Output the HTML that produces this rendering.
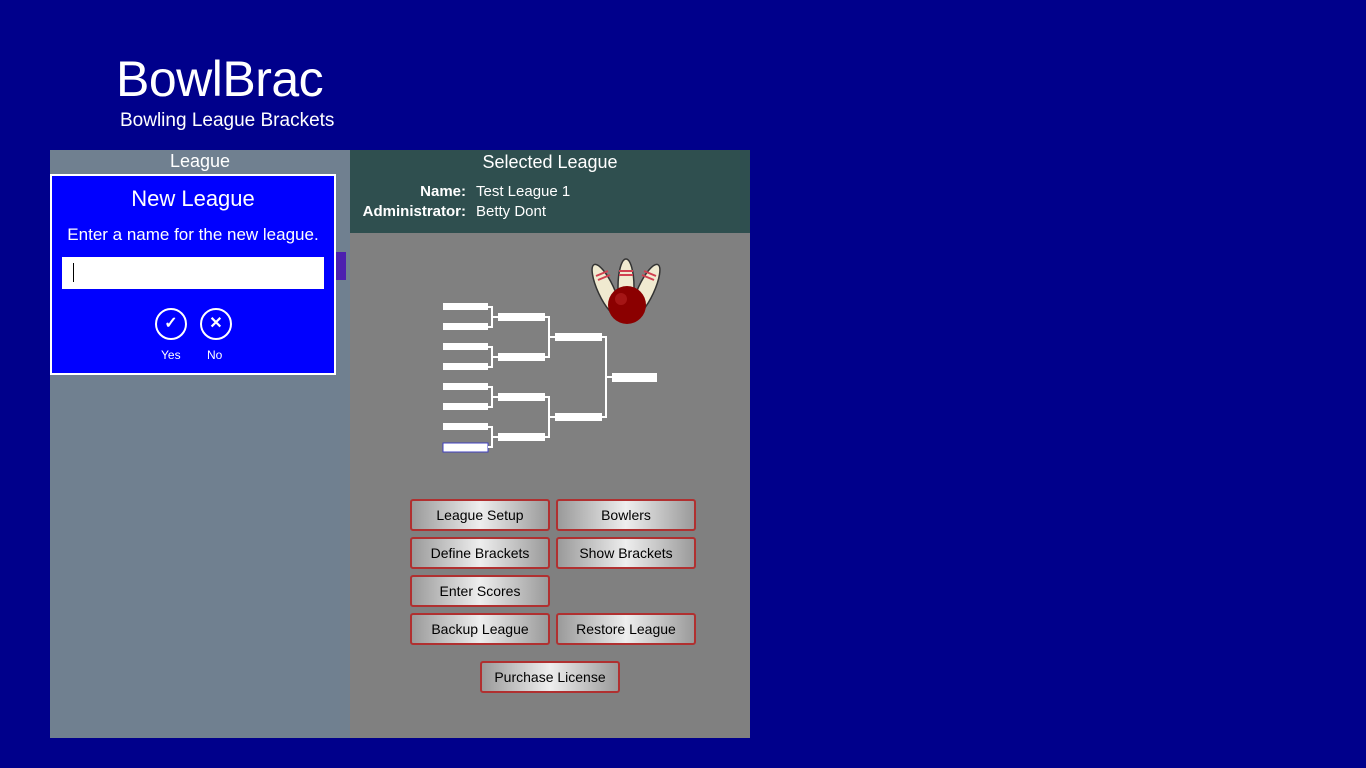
<!DOCTYPE html>
<html><head><style>
body{margin:0;width:1366px;height:768px;background:#00008b;position:relative;overflow:hidden;font-family:"Liberation Sans",sans-serif;color:#fff}
.a{position:absolute}
.btn{position:absolute;width:136px;height:28px;border:2px solid #b03030;border-radius:3px;background:linear-gradient(90deg,#9a9a9a,#eee 50%,#9a9a9a);color:#000;font-size:14px;text-align:center;line-height:28px}
</style></head><body>
<div class="a" style="left:116px;top:50px;font-size:50px;font-weight:300;letter-spacing:-0.5px">BowlBrac</div>
<div class="a" style="left:120px;top:110px;font-size:19px">Bowling League Brackets</div>
<div class="a" style="left:50px;top:150px;width:300px;height:588px;background:#708090"></div>
<div class="a" style="left:50px;top:150px;width:300px;text-align:center;font-size:18px;line-height:22px">League</div>
<div class="a" style="left:336px;top:252px;width:10px;height:28px;background:#4b1fb0"></div>
<div class="a" style="left:350px;top:150px;width:400px;height:588px;background:#808080"></div>
<div class="a" style="left:350px;top:150px;width:400px;height:83px;background:#2f4f4f"></div>
<div class="a" style="left:350px;top:150px;width:400px;text-align:center;font-size:18px;line-height:24px">Selected League</div>
<div class="a" style="left:350px;top:182px;width:116px;text-align:right;font-size:15px;font-weight:bold;line-height:20px">Name:<br>Administrator:</div>
<div class="a" style="left:476px;top:182px;font-size:15px;line-height:20px">Test League 1<br>Betty Dont</div>
<div class="a" style="left:50px;top:174px;width:282px;height:197px;background:#0000ff;border:2px solid #fff"></div>
<div class="a" style="left:52px;top:186px;width:282px;text-align:center;font-size:22px">New League</div>
<div class="a" style="left:52px;top:225px;width:282px;text-align:center;font-size:17px">Enter a name for the new league.</div>
<div class="a" style="left:62px;top:257px;width:262px;height:32px;background:#fff"></div>
<div class="a" style="left:73px;top:263px;width:1px;height:19px;background:#000"></div>
<div class="a" style="left:155px;top:308px;width:28px;height:28px;border:2px solid #fff;border-radius:50%;text-align:center;line-height:28px;font-size:16px;font-weight:bold">✓</div>
<div class="a" style="left:200px;top:308px;width:28px;height:28px;border:2px solid #fff;border-radius:50%;text-align:center;line-height:28px;font-size:16px;font-weight:bold">✕</div>
<div class="a" style="left:161px;top:348px;font-size:12px">Yes</div>
<div class="a" style="left:207px;top:348px;font-size:12px">No</div>
<svg class="a" style="left:0;top:0" width="1366" height="768">
<g fill="#fff">
<rect x="443" y="303" width="45" height="7"/><rect x="443" y="323" width="45" height="7"/>
<rect x="443" y="343" width="45" height="7"/><rect x="443" y="363" width="45" height="7"/>
<rect x="443" y="383" width="45" height="7"/><rect x="443" y="403" width="45" height="7"/>
<rect x="443" y="423" width="45" height="7"/><rect x="443" y="443" width="45" height="9" stroke="#4040c0"/>
<rect x="498" y="313" width="47" height="8"/><rect x="498" y="353" width="47" height="8"/>
<rect x="498" y="393" width="47" height="8"/><rect x="498" y="433" width="47" height="8"/>
<rect x="555" y="333" width="47" height="8"/><rect x="555" y="413" width="47" height="8"/>
<rect x="612" y="373" width="45" height="9"/>
</g>
<g stroke="#fff" stroke-width="2" fill="none">
<path d="M488 307H492V327H488M492 317H498"/><path d="M488 347H492V367H488M492 357H498"/>
<path d="M488 387H492V407H488M492 397H498"/><path d="M488 427H492V447H488M492 437H498"/>
<path d="M545 317H549V357H545M549 337H555"/><path d="M545 397H549V437H545M549 417H555"/>
<path d="M602 337H606V417H602M606 377H612"/>
</g>
<g stroke="#333" stroke-width="1.5" fill="#f0ead0">
<ellipse cx="606" cy="290" rx="8" ry="28" transform="rotate(-25 606 290)"/>
<ellipse cx="626" cy="287" rx="8" ry="28"/>
<ellipse cx="646" cy="290" rx="8" ry="28" transform="rotate(25 646 290)"/>
</g>
<g stroke="#d04050" stroke-width="2">
<path d="M596 276l12 -5M598 280l12 -5"/><path d="M619 271h14M619 275h14"/><path d="M644 271l12 5M642 275l12 5"/>
</g>
<circle cx="627" cy="305" r="19" fill="#8b0000"/>
<circle cx="621" cy="299" r="6" fill="#a51515"/>
</svg>
<div class="btn" style="left:410px;top:499px">League Setup</div>
<div class="btn" style="left:556px;top:499px">Bowlers</div>
<div class="btn" style="left:410px;top:537px">Define Brackets</div>
<div class="btn" style="left:556px;top:537px">Show Brackets</div>
<div class="btn" style="left:410px;top:575px">Enter Scores</div>
<div class="btn" style="left:410px;top:613px">Backup League</div>
<div class="btn" style="left:556px;top:613px">Restore League</div>
<div class="btn" style="left:480px;top:661px;overflow:hidden;white-space:nowrap">Purchase License</div>
</body></html>
